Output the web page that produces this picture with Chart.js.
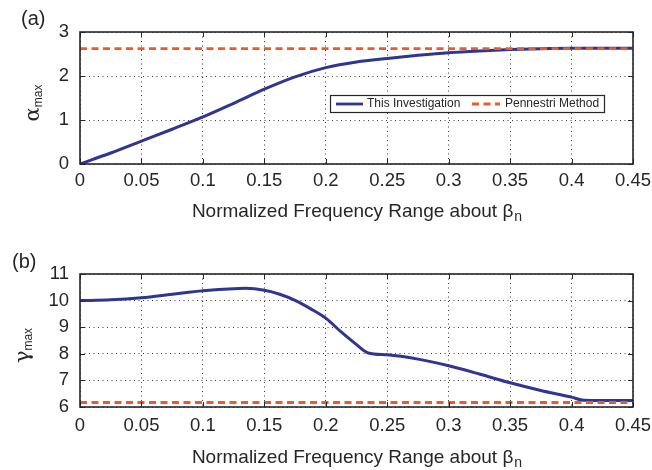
<!DOCTYPE html>
<html><head><meta charset="utf-8">
<script src="https://cdn.jsdelivr.net/npm/chart.js@4/dist/chart.umd.min.js"></script>
<style>
html,body{margin:0;padding:0;background:#fff;}
#wrap{position:relative;width:652px;height:470px;overflow:hidden;}
canvas{position:absolute;left:0;}
#ca{top:0;}
#cb{top:235px;}
</style></head><body>
<div id="wrap"><canvas id="ca" width="652" height="235"></canvas><canvas id="cb" width="652" height="235"></canvas></div>
<script>
// ---- data ----
const xTicks = [0, 0.05, 0.1, 0.15, 0.2, 0.25, 0.3, 0.35, 0.4, 0.45];
const xTickLabels = ['0', '0.05', '0.1', '0.15', '0.2', '0.25', '0.3', '0.35', '0.4', '0.45'];
const alphaTicks = [0, 1, 2, 3];
const gammaTicks = [6, 7, 8, 9, 10, 11];
const seriesLabels = ['This Investigation', 'Pennestri Method'];
const xTitle = 'Normalized Frequency Range about β';
const xTitleSub = 'n';
const alphaTitle = 'α';
const gammaTitle = 'γ';
const yTitleSub = 'max';
const panelLabels = ['(a)', '(b)'];

const alphaX = [0, 0.025, 0.05, 0.075, 0.1, 0.125, 0.15, 0.175, 0.2, 0.225, 0.25, 0.275, 0.3, 0.325, 0.35, 0.375, 0.4, 0.425, 0.45];
const alphaY = [0, 0.25, 0.52, 0.79, 1.07, 1.38, 1.70, 1.98, 2.19, 2.32, 2.40, 2.47, 2.53, 2.57, 2.60, 2.62, 2.63, 2.63, 2.63];

const gammaX = [0, 0.025, 0.05, 0.075, 0.1, 0.125, 0.135, 0.15, 0.1625, 0.175, 0.1875, 0.2, 0.2125, 0.2235, 0.2345, 0.25, 0.275, 0.3, 0.325, 0.35, 0.375, 0.4, 0.41, 0.425, 0.45];
const gammaY = [10.00, 10.03, 10.11, 10.24, 10.37, 10.45, 10.46, 10.39, 10.24, 10.01, 9.70, 9.34, 8.82, 8.40, 8.03, 7.96, 7.80, 7.55, 7.24, 6.91, 6.62, 6.37, 6.25, 6.24, 6.24];

const pennestriX = [0, 0.45];
const pennestriAlpha = [2.62, 2.62];
const pennestriGamma = [6.17, 6.17];

// ---- styling ----
const BLUE = '#2D3691';
const ORANGE = '#EE5A2C';
const INK = '#262626';
const SANS = '"Liberation Sans", Arial, Helvetica, sans-serif';

const pts = (xs, ys) => xs.map((x, i) => ({x: x, y: ys[i]}));

const decor = {
  id: 'decor',
  afterDraw(chart, args, o) {
    const ctx = chart.ctx, a = chart.chartArea;
    const xs = chart.scales.x, ys = chart.scales.y;
    ctx.save();
    // inward tick marks on all four sides
    ctx.strokeStyle = INK; ctx.lineWidth = 1; ctx.setLineDash([]);
    ctx.beginPath();
    xs.ticks.forEach(t => {
      const px = Math.round(xs.getPixelForValue(t.value)) + 0.5;
      ctx.moveTo(px, a.bottom); ctx.lineTo(px, a.bottom - 5);
      ctx.moveTo(px, a.top); ctx.lineTo(px, a.top + 5);
    });
    ys.ticks.forEach(t => {
      const py = Math.round(ys.getPixelForValue(t.value)) + 0.5;
      ctx.moveTo(a.left, py); ctx.lineTo(a.left + 5, py);
      ctx.moveTo(a.right, py); ctx.lineTo(a.right - 5, py);
    });
    ctx.stroke();
    // axes box
    ctx.lineWidth = 1.6;
    ctx.strokeRect(a.left, a.top, a.right - a.left, a.bottom - a.top);

    ctx.fillStyle = INK;
    // x title with subscript
    ctx.textBaseline = 'alphabetic'; ctx.textAlign = 'left';
    ctx.font = '19px ' + SANS;
    const wMain = ctx.measureText(xTitle).width;
    ctx.font = '14px ' + SANS;
    const wSub = ctx.measureText(xTitleSub).width;
    const cx = (a.left + a.right) / 2 + o.xTitleDx;
    const x0 = cx - (wMain + wSub) / 2;
    const by = a.bottom + o.xTitleOffset;
    ctx.font = '19px ' + SANS;
    ctx.fillText(xTitle, x0, by);
    ctx.font = '14px ' + SANS;
    ctx.fillText(xTitleSub, x0 + wMain + 1, by + 4);

    // y title (rotated) with subscript
    ctx.save();
    ctx.translate(o.yTitleX, (a.top + a.bottom) / 2 + o.yTitleDy);
    ctx.rotate(-Math.PI / 2);
    ctx.font = '21px "DejaVu Serif", "Liberation Serif", serif';
    const wy = ctx.measureText(o.yTitle).width;
    ctx.font = '12px ' + SANS;
    const wys = ctx.measureText(yTitleSub).width;
    const y0 = -(wy + wys) / 2;
    ctx.font = '21px "DejaVu Serif", "Liberation Serif", serif';
    ctx.fillText(o.yTitle, y0, 0);
    ctx.font = '12px ' + SANS;
    ctx.fillText(yTitleSub, y0 + wy, 3);
    ctx.restore();

    // panel label
    ctx.font = '20px ' + SANS;
    ctx.fillText(o.panel, o.panelX, o.panelY);

    // legend
    if (o.legend) {
      const L = o.legend;
      ctx.fillStyle = '#fff';
      ctx.fillRect(L.x, L.y, L.w, L.h);
      ctx.strokeStyle = INK; ctx.lineWidth = 1.2;
      ctx.strokeRect(L.x + 0.5, L.y + 0.5, L.w, L.h);
      const my = L.y + L.h / 2 + 0.5;
      const ds = chart.data.datasets;
      ctx.font = '12px ' + SANS;
      ctx.textBaseline = 'middle';
      const d1 = ds.find(d => d.label === seriesLabels[0]);
      const d2 = ds.find(d => d.label === seriesLabels[1]);
      ctx.lineWidth = 2.8;
      ctx.strokeStyle = d1.borderColor; ctx.setLineDash([]);
      ctx.beginPath(); ctx.moveTo(L.x + 6, my); ctx.lineTo(L.x + 33, my); ctx.stroke();
      ctx.fillStyle = INK;
      ctx.fillText(d1.label, L.x + 37, my);
      ctx.strokeStyle = d2.borderColor; ctx.setLineDash(d2.borderDash);
      ctx.beginPath(); ctx.moveTo(L.x + 142, my); ctx.lineTo(L.x + 170, my); ctx.stroke();
      ctx.setLineDash([]);
      ctx.fillText(d2.label, L.x + 175, my);
    }
    ctx.restore();
  }
};

function makeChart(id, cfg) {
  return new Chart(document.getElementById(id), {
    type: 'line',
    data: {
      datasets: [
        {label: seriesLabels[1], data: pts(pennestriX, cfg.penY), borderColor: ORANGE, borderWidth: 2.8,
         borderDash: [7, 4.5], pointRadius: 0, order: 0, tension: 0},
        {label: seriesLabels[0], data: pts(cfg.lx, cfg.ly), borderColor: BLUE, borderWidth: 3,
         pointRadius: 0, order: 1, cubicInterpolationMode: 'monotone'}
      ]
    },
    options: {
      responsive: false, animation: false, devicePixelRatio: 1,
      layout: {padding: {left: 0, right: 19, top: cfg.top, bottom: 0}},
      plugins: {legend: {display: false}, tooltip: {enabled: false}, decor: cfg.decor},
      scales: {
        x: {
          type: 'linear', min: 0, max: 0.45,
          afterBuildTicks: s => { s.ticks = xTicks.map(v => ({value: v})); },
          afterFit: s => { s.height = cfg.xh; s.paddingLeft = 0; s.paddingRight = 0; },
          ticks: {padding: cfg.xpad, color: INK, font: {family: SANS, size: 18.5},
                  callback: (v, i) => xTickLabels[i], maxRotation: 0, autoSkip: false},
          grid: {color: '#3a3a3a', lineWidth: 1, drawTicks: false},
          border: {display: false, dash: [1, 3.5]}
        },
        y: {
          type: 'linear', min: cfg.ymin, max: cfg.ymax,
          afterBuildTicks: s => { s.ticks = cfg.yt.map(v => ({value: v})); },
          afterFit: s => { s.width = 80; s.paddingTop = 0; s.paddingBottom = 0; },
          ticks: {padding: 11, color: INK, font: {family: SANS, size: 18.5},
                  callback: v => String(v)},
          grid: {color: '#3a3a3a', lineWidth: 1, drawTicks: false},
          border: {display: false, dash: [1, 3.5]}
        }
      }
    },
    plugins: [decor]
  });
}

makeChart('ca', {
  lx: alphaX, ly: alphaY, penY: pennestriAlpha, ymin: 0, ymax: 3, yt: alphaTicks,
  top: 32, xh: 71, xpad: 6,
  decor: {panel: panelLabels[0], panelX: 21, panelY: 25, yTitle: alphaTitle, yTitleX: 39, yTitleDy: 5,
          xTitleOffset: 53, xTitleDx: 0, legend: {x: 330, y: 95, w: 274, h: 17}}
});
makeChart('cb', {
  lx: gammaX, ly: gammaY, penY: pennestriGamma, ymin: 6, ymax: 11, yt: gammaTicks,
  top: 39, xh: 63, xpad: 8,
  decor: {panel: panelLabels[1], panelX: 12, panelY: 33, yTitle: gammaTitle, yTitleX: 29, yTitleDy: 5,
          xTitleOffset: 56, xTitleDx: 0, legend: null}
});
</script>
</body></html>
